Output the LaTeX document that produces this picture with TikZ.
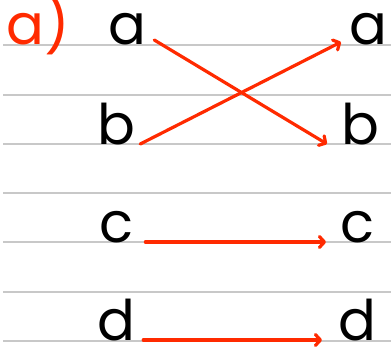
\documentclass[tikz,border=0pt]{standalone}
\usepackage{fontspec}
\setmainfont{Poppins}
\usetikzlibrary{arrows.meta,positioning,calc}
\definecolor{pen}{HTML}{FF2A00}
\definecolor{ruling}{HTML}{C8C8C8}

\begin{document}
\begin{tikzpicture}[x=1pt,y=-1pt, letter/.style={inner sep=0pt,text depth=0pt,anchor=base west,font=\fontsize{56}{56}\selectfont},
  rule/.style={draw=ruling,line width=1.5pt}, map/.style={draw=pen,line width=3.2pt,line cap=round,line join=round,-{Straight Barb[length=5pt,width=11pt,line cap=round,line join=round]}}]
\useasboundingbox (0,0) rectangle (391,353);
\foreach \y in {45,95,144,193,242,292,341} \draw[rule] (3,\y) -- (391,\y);
\node[letter,text=pen] (tag) at (6,45) {a)};
\node[letter] (la) at (108,45) {a};
\node[letter] (lb) at (97,144) {b};
\node[letter] (lc) at (99,242) {c};
\node[letter] (ld) at (97,340) {d};
\node[letter] (ra) at (349,45) {a};
\node[letter] (rb) at (341,144) {b};
\node[letter] (rc) at (340,242) {c};
\node[letter] (rd) at (338,340) {d};
\draw[map] ([xshift=8pt,yshift=5pt]la.base east) -- ([xshift=-14pt]rb.base west);
\draw[map] ([xshift=5pt]lb.base east) -- ([xshift=-8pt,yshift=3pt]ra.base west);
\draw[map] ([xshift=12pt]lc.base east) -- ([xshift=-14pt]rc.base west);
\draw[map] ([xshift=8pt]ld.base east) -- ([xshift=-16pt]rd.base west);
\end{tikzpicture}
\end{document}
